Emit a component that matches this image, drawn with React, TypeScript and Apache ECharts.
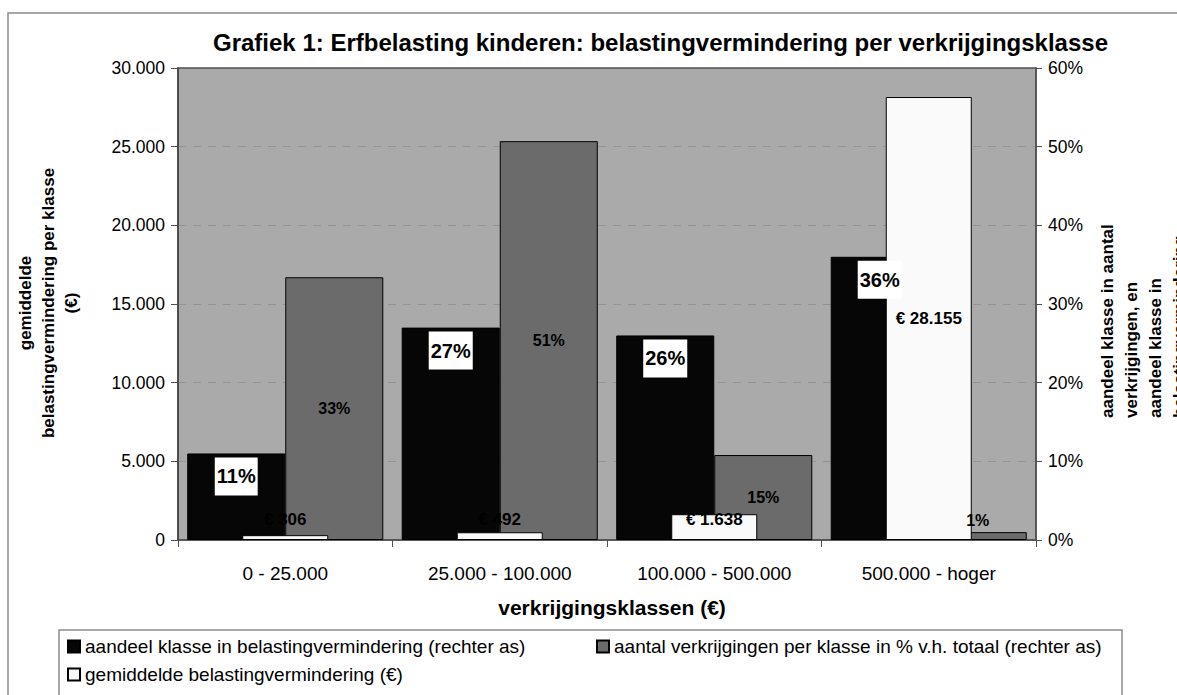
import React, { useEffect, useRef } from "react";
import * as echarts from "echarts";

const categories = ["0 - 25.000", "25.000 - 100.000", "100.000 - 500.000", "500.000 - hoger"];
// aandeel klasse in belastingvermindering (%), right axis
const shareReduction = [11, 27, 26, 36];
// aantal verkrijgingen per klasse in % v.h. totaal, right axis (bar heights as drawn)
const shareCount = [33.4, 50.7, 10.8, 1.0];
const shareCountLabels = ["33%", "51%", "15%", "1%"];
// gemiddelde belastingvermindering (€), left axis
const avgReduction = [306, 492, 1638, 28155];

const leftTicks = { min: 0, max: 30000, interval: 5000 };
const rightTicks = { min: 0, max: 60, interval: 10 };

const seriesNames = [
  "aandeel klasse in belastingvermindering (rechter as)",
  "aantal verkrijgingen per klasse in % v.h. totaal (rechter as)",
  "gemiddelde belastingvermindering (€)",
];

const FONT = "'Liberation Sans', Arial, sans-serif";
const dots = (v: number) => String(v).replace(/\B(?=(\d{3})+(?!\d))/g, ".");

export default function App() {
  const ref = useRef<HTMLDivElement>(null);
  useEffect(() => {
    if (!ref.current) return;
    const chart = echarts.init(ref.current, null, { renderer: "svg" });
    const legendCommon = {
      orient: "horizontal",
      padding: 0,
      itemGap: 0,
      itemWidth: 12,
      itemHeight: 12,
      icon: "rect",
      selectedMode: false,
      textStyle: { fontSize: 19, color: "#000", fontFamily: FONT },
    };
    chart.setOption({
      animation: false,
      backgroundColor: "#fff",
      textStyle: { fontFamily: FONT },
      title: {
        text: "Grafiek 1: Erfbelasting kinderen: belastingvermindering per verkrijgingsklasse",
        left: 213,
        top: 30,
        padding: 0,
        textStyle: { fontSize: 24, fontWeight: "bold", color: "#000", fontFamily: FONT },
      },
      legend: [
        { ...legendCommon, data: [seriesNames[0]], left: 67, top: 637 },
        { ...legendCommon, data: [seriesNames[1]], left: 596, top: 637 },
        { ...legendCommon, data: [seriesNames[2]], left: 67, top: 665 },
      ],
      grid: {
        left: 178,
        right: 141,
        top: 68,
        bottom: 155,
        show: true,
        backgroundColor: "#aaaaaa",
        borderColor: "#505050",
        borderWidth: 1.5,
      },
      xAxis: [
        {
          type: "category",
          data: categories,
          axisLine: { lineStyle: { color: "#505050", width: 1.5 } },
          axisTick: { show: true, length: 7, lineStyle: { color: "#505050" } },
          axisLabel: { color: "#000", fontSize: 19, margin: 24, fontFamily: FONT },
        },
        {
          type: "category",
          data: categories,
          show: false,
        },
      ],
      yAxis: [
        {
          type: "value",
          ...leftTicks,
          position: "left",
          axisLine: { show: true, lineStyle: { color: "#404040", width: 1.5 } },
          axisTick: { show: true, length: 7, lineStyle: { color: "#505050" } },
          axisLabel: {
            color: "#000",
            fontSize: 17.5,
            margin: 13,
            fontFamily: FONT,
            formatter: (v: number) => dots(v),
          },
          splitLine: {
            show: true,
            showMinLine: false,
            showMaxLine: false,
            lineStyle: { color: "#939393", width: 1, type: [8, 7] },
          },
        },
        {
          type: "value",
          ...rightTicks,
          position: "right",
          axisLine: { show: true, lineStyle: { color: "#505050", width: 1.5 } },
          axisTick: { show: true, length: 6, lineStyle: { color: "#505050" } },
          axisLabel: {
            color: "#000",
            fontSize: 17.5,
            margin: 12,
            fontFamily: FONT,
            formatter: (v: number) => v + "%",
          },
          splitLine: { show: false },
        },
      ],
      series: [
        {
          name: seriesNames[0],
          type: "bar",
          xAxisIndex: 0,
          yAxisIndex: 1,
          data: shareReduction,
          barGap: "0%",
          barCategoryGap: "8.6%",
          itemStyle: { color: "#060606", borderColor: "#000", borderWidth: 1 },
          label: {
            show: true,
            position: "insideTop",
            distance: 4,
            formatter: "{c}%",
            backgroundColor: "#fff",
            padding: [9, 2, 9, 2],
            color: "#000",
            fontSize: 20,
            fontWeight: "bold",
            fontFamily: FONT,
          },
          z: 2,
        },
        {
          name: seriesNames[1],
          type: "bar",
          xAxisIndex: 0,
          yAxisIndex: 1,
          data: shareCount.map((v, i) => ({
            value: v,
            label: {
              formatter: shareCountLabels[i],
              position: v < 5 ? "top" : "inside",
              distance: 4,
            },
          })),
          barGap: "0%",
          barCategoryGap: "8.6%",
          itemStyle: { color: "#6b6b6b", borderColor: "#000", borderWidth: 1 },
          label: {
            show: true,
            color: "#000",
            fontSize: 16,
            fontWeight: "bold",
            fontFamily: FONT,
          },
          z: 2,
        },
        {
          name: seriesNames[2],
          type: "bar",
          xAxisIndex: 1,
          yAxisIndex: 0,
          barWidth: 86,
          data: avgReduction.map((v) => ({
            value: v,
            label:
              v > 10000
                ? { position: "inside" }
                : { position: "insideBottom", distance: 12 },
          })),
          itemStyle: { color: "#fafafa", borderColor: "#000", borderWidth: 1 },
          label: {
            show: true,
            color: "#000",
            fontSize: 17,
            fontWeight: "bold",
            fontFamily: FONT,
            formatter: (p: any) => "€ " + dots(p.value),
          },
          z: 2,
        },
      ],
      graphic: [
        {
          type: "rect",
          shape: { x: 8, y: 13, width: 1300, height: 800 },
          style: { fill: "none", stroke: "#8c8c8c", lineWidth: 1.5 },
          silent: true,
        },
        {
          type: "rect",
          shape: { x: 59, y: 630, width: 1063, height: 200 },
          style: { fill: "none", stroke: "#8c8c8c", lineWidth: 1.5 },
          silent: true,
        },
        {
          type: "text",
          x: 48,
          y: 303,
          rotation: Math.PI / 2,
          style: {
            text: "gemiddelde\nbelastingvermindering per klasse\n(€)",
            font: "bold 17px " + FONT,
            fill: "#000",
            textAlign: "center",
            textVerticalAlign: "middle",
            lineHeight: 23,
          },
          silent: true,
        },
        {
          type: "text",
          x: 1095,
          y: 418,
          rotation: Math.PI / 2,
          style: {
            text: "aandeel klasse in aantal\nverkrijgingen, en\naandeel klasse in\nbelastingvermindering",
            font: "bold 17px " + FONT,
            fill: "#000",
            textAlign: "left",
            textVerticalAlign: "top",
            lineHeight: 24,
          },
          silent: true,
        },
        {
          type: "text",
          x: 612,
          y: 607,
          style: {
            text: "verkrijgingsklassen (€)",
            font: "bold 21px " + FONT,
            fill: "#000",
            textAlign: "center",
            textVerticalAlign: "middle",
          },
          silent: true,
        },
      ],
    });
    return () => chart.dispose();
  }, []);
  return (
    <div
      ref={ref}
      style={{ position: "fixed", left: 0, top: 0, width: 1177, height: 695, background: "#fff" }}
    />
  );
}
